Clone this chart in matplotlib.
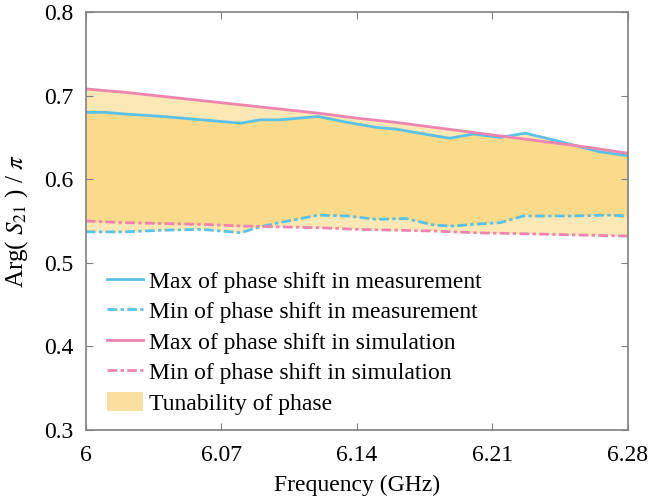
import numpy as np
import matplotlib
matplotlib.use('Agg')
import matplotlib.pyplot as plt

# data
freq_sim = [6.00, 6.02, 6.04, 6.06, 6.08, 6.10, 6.12, 6.14, 6.16, 6.18, 6.20, 6.22, 6.24, 6.26, 6.28]
sim_max = [0.708, 0.704, 0.699, 0.694, 0.689, 0.684, 0.679, 0.673, 0.668, 0.662, 0.656, 0.650, 0.644, 0.638, 0.631]
sim_min = [0.550, 0.548, 0.547, 0.546, 0.544, 0.543, 0.542, 0.540, 0.539, 0.538, 0.536, 0.535, 0.534, 0.533, 0.532]

freq_max = [6.000, 6.010, 6.020, 6.040, 6.060, 6.080, 6.090, 6.100, 6.120, 6.135, 6.150, 6.160,
            6.175, 6.188, 6.200, 6.214, 6.227, 6.245, 6.265, 6.280]
meas_max = [0.680, 0.680, 0.678, 0.675, 0.671, 0.667, 0.671, 0.671, 0.675, 0.668, 0.662, 0.660,
            0.654, 0.649, 0.654, 0.650, 0.655, 0.645, 0.633, 0.628]

freq_min = [6.000, 6.020, 6.040, 6.060, 6.075, 6.080, 6.090, 6.100, 6.120, 6.135, 6.150, 6.165,
            6.180, 6.190, 6.200, 6.214, 6.226, 6.250, 6.270, 6.280]
meas_min = [0.537, 0.537, 0.539, 0.540, 0.537, 0.536, 0.543, 0.548, 0.557, 0.556, 0.552, 0.553,
            0.545, 0.544, 0.546, 0.548, 0.556, 0.556, 0.557, 0.556]

xticks = [6, 6.07, 6.14, 6.21, 6.28]
xtick_labels = ['6', '6.07', '6.14', '6.21', '6.28']
yticks = [0.3, 0.4, 0.5, 0.6, 0.7, 0.8]

plt.rcParams['font.family'] = ['Liberation Serif', 'DejaVu Serif']
plt.rcParams['mathtext.fontset'] = 'stix'

blue = '#5bc1e6'
pink = '#ee85b0'
fill_c = '#f9cc5c'

fig = plt.figure(figsize=(6.5, 5), dpi=100)
ax = fig.add_axes([0.132, 0.14, 0.834, 0.836])

# common grid for the shaded bands
fg = np.linspace(6, 6.28, 281)
s_hi = np.interp(fg, freq_sim, sim_max)
s_lo = np.interp(fg, freq_sim, sim_min)
m_hi = np.interp(fg, freq_max, meas_max)
m_lo = np.interp(fg, freq_min, meas_min)
ax.fill_between(fg, s_lo, s_hi, color=fill_c, alpha=0.45, lw=0)
ax.fill_between(fg, m_lo, m_hi, color=fill_c, alpha=0.45, lw=0)

dash = (0, (3.5, 1.2, 1.2, 1.2))
ax.plot(freq_max, meas_max, color=blue, lw=2, label='Max of phase shift in measurement')
ax.plot(freq_min, meas_min, color=blue, lw=2, ls=dash, label='Min of phase shift in measurement')
ax.plot(freq_sim, sim_max, color=pink, lw=2, label='Max of phase shift in simulation')
ax.plot(freq_sim, sim_min, color=pink, lw=2, ls=dash, label='Min of phase shift in simulation')
ax.fill_between([], [], [], color='#fbe0a0', lw=0, label='Tunability of phase')

ax.set_xlim(6, 6.28)
ax.set_ylim(0.3, 0.8)
ax.set_xticks(xticks)
ax.set_xticklabels(xtick_labels)
ax.set_yticks(yticks)
ax.tick_params(direction='in', top=True, right=True, labelsize=17, length=5,
               color='#808080')
ax.tick_params(axis='x', pad=11)
ax.tick_params(axis='y', pad=9)
for sp in ax.spines.values():
    sp.set_color('#808080')
    sp.set_linewidth(1.2)

ax.set_xlabel('Frequency (GHz)', fontsize=17, labelpad=6)
ax.set_ylabel(r'Arg( $S_{21}$ ) / $\pi$', fontsize=18, labelpad=10)

ax.legend(loc='lower left', bbox_to_anchor=(0.01, 0.0), frameon=False, fontsize=17,
          handlelength=1.55, handletextpad=0.25, labelspacing=0.32, borderaxespad=0.25,
          handleheight=0.9)

fig.savefig('out.png')
